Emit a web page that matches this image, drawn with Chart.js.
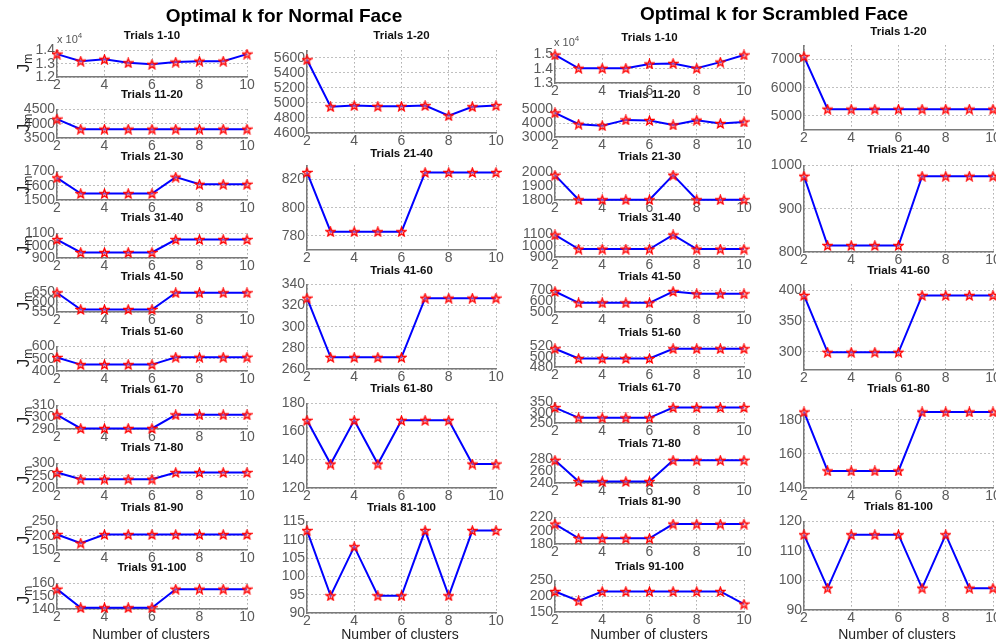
<!DOCTYPE html>
<html>
<head>
<meta charset="utf-8">
<script src="https://cdn.jsdelivr.net/npm/chart.js@4"></script>
<style>
  body { margin: 0; background: #fff; }
  #stage { position: relative; width: 996px; height: 644px; overflow: hidden; font-family: "Liberation Sans", Arial, sans-serif; }
  .plot { position: absolute; }
  .title { position: absolute; width: 200px; text-align: center; font-weight: bold; font-size: 11.5px; line-height: 14px; color: #111; }
  .main { position: absolute; width: 360px; text-align: center; font-weight: bold; font-size: 19px; line-height: 22px; color: #000; }
  .xlab { position: absolute; width: 200px; text-align: center; font-size: 14px; line-height: 16px; color: #222; }
  .jm { position: absolute; width: 30px; height: 22px; line-height: 22px; text-align: center; font-size: 17px; color: #222; transform: rotate(-90deg); }
  .jm sub { font-size: 12px; vertical-align: -3px; }
  .expo { position: absolute; font-size: 11px; color: #555; }
  .expo sup { font-size: 8px; }
</style>
</head>
<body>
<div id="stage"></div>
<script>
// number of clusters on every x axis
const clusters = [2, 3, 4, 5, 6, 7, 8, 9, 10];
const xTicks = [2, 4, 6, 8, 10];

// ---- Normal face ----
const normalTenTitles = ['Trials 1-10', 'Trials 11-20', 'Trials 21-30', 'Trials 31-40', 'Trials 41-50',
  'Trials 51-60', 'Trials 61-70', 'Trials 71-80', 'Trials 81-90', 'Trials 91-100'];
const normalTen = [
  [13720, 13190, 13330, 13070, 12950, 13120, 13190, 13190, 13720],
  [4160, 3810, 3810, 3810, 3810, 3810, 3810, 3810, 3810],
  [1655, 1545, 1545, 1545, 1545, 1660, 1610, 1610, 1610],
  [1050, 945, 945, 945, 945, 1050, 1050, 1050, 1050],
  [648, 563, 563, 563, 563, 648, 648, 648, 648],
  [510, 452, 452, 452, 452, 512, 512, 512, 512],
  [302, 290.5, 290.5, 290.5, 290.5, 302, 302, 302, 302],
  [263, 236, 236, 236, 236, 263, 263, 263, 263],
  [204, 174, 204, 204, 204, 204, 204, 204, 204],
  [155.5, 141, 141, 141, 141, 155.5, 155.5, 155.5, 155.5]
];
const normalTenTicks = [
  [12000, 13000, 14000], [3500, 4000, 4500], [1500, 1600, 1700], [900, 1000, 1100], [550, 600, 650],
  [400, 500, 600], [290, 300, 310], [200, 250, 300], [150, 200, 250], [140, 150, 160]
];

const normalTwentyTitles = ['Trials 1-20', 'Trials 21-40', 'Trials 41-60', 'Trials 61-80', 'Trials 81-100'];
const normalTwenty = [
  [5575, 4950, 4965, 4955, 4955, 4965, 4830, 4950, 4965],
  [825, 783, 783, 783, 783, 825, 825, 825, 825],
  [327, 271, 271, 271, 271, 327, 327, 327, 327],
  [168, 137, 168, 137, 168, 168, 168, 137, 137],
  [112.5, 94.7, 108.1, 94.7, 94.7, 112.5, 94.7, 112.5, 112.5]
];
const normalTwentyTicks = [
  [4600, 4800, 5000, 5200, 5400, 5600], [780, 800, 820], [260, 280, 300, 320, 340],
  [120, 140, 160, 180], [90, 95, 100, 105, 110, 115]
];
const normalTwentyRange = [[4600, 5700], [770, 830], [260, 340], [120, 180], [90, 115]];

// ---- Scrambled face ----
const scrambledTenTitles = normalTenTitles;
const scrambledTen = [
  [14960, 14030, 14030, 14030, 14330, 14370, 14030, 14460, 14960],
  [4750, 3930, 3820, 4240, 4200, 3870, 4220, 3980, 4090],
  [1980, 1802, 1802, 1802, 1802, 1980, 1802, 1802, 1802],
  [1095, 970, 970, 970, 970, 1095, 970, 970, 970],
  [690, 585, 585, 585, 585, 690, 668, 668, 668],
  [515.5, 496.5, 496.5, 496.5, 496.5, 515.5, 515.5, 515.5, 515.5],
  [325, 275, 275, 275, 275, 325, 325, 325, 325],
  [278.5, 242.5, 242.5, 242.5, 242.5, 278.5, 278.5, 278.5, 278.5],
  [210, 188.5, 188.5, 188.5, 188.5, 210, 210, 210, 210],
  [215, 185, 215, 215, 215, 215, 215, 215, 175]
];
const scrambledTenTicks = [
  [13000, 14000, 15000], [3000, 4000, 5000], [1800, 1900, 2000], [900, 1000, 1100], [500, 600, 700],
  [480, 500, 520], [250, 300, 350], [240, 260, 280], [180, 200, 220], [150, 200, 250]
];

const scrambledTwentyTitles = normalTwentyTitles;
const scrambledTwenty = [
  [7100, 5240, 5240, 5240, 5240, 5240, 5240, 5240, 5240],
  [975, 815, 815, 815, 815, 975, 975, 975, 975],
  [392, 299, 299, 299, 299, 392, 392, 392, 392],
  [184.5, 150, 150, 150, 150, 184.5, 184.5, 184.5, 184.5],
  [115.5, 97.4, 115.5, 115.5, 115.5, 97.4, 115.5, 97.4, 97.4]
];
const scrambledTwentyTicks = [
  [5000, 6000, 7000], [800, 900, 1000], [300, 350, 400], [140, 160, 180], [90, 100, 110, 120]
];
const scrambledTwentyRange = [[4500, 7500], [800, 1000], [270, 410], [140, 186], [90, 120]];

// plot boxes in page pixels: [top, bottom, title centre]
const columns = [
  { left: 57, right: 247, boxes: [[48,77,35],[107,138,94],[169,200,156],[231,258,217],[290,312,276],
      [344,371,331],[403,429,389],[461,488,447],[519,550,507],[581,609,567]] },
  { left: 307, right: 496, boxes: [[48,133,35],[163,250,153],[282,369,270],[401,488,388],[519,613,507]] },
  { left: 555, right: 744, boxes: [[52,83,37],[107,137,94],[170,200,156],[232,257,217],[288,312,276],
      [344,367,332],[400,423,387],[457,483,443],[515,544,501],[578,612,566]] },
  { left: 804, right: 993, boxes: [[43,130,31],[163,252,149],[282,370,270],[407,488,388],[519,610,506]] }
];

const stage = document.getElementById('stage');
const tickFont = { family: '"Liberation Sans", Arial, sans-serif', size: 14 };
const tickColor = '#5a5a5a';
const gridColor = '#808080';
const axisColor = '#7a7a7a';

// red pentagram marker
function makeStar() {
  const c = document.createElement('canvas');
  c.width = 11; c.height = 11;
  const g = c.getContext('2d');
  g.beginPath();
  for (let i = 0; i < 10; i++) {
    const r = i % 2 ? 2 : 4.7;
    const a = -Math.PI / 2 + i * Math.PI / 5;
    g.lineTo(5.5 + r * Math.cos(a), 5.9 + r * Math.sin(a));
  }
  g.closePath();
  g.fillStyle = 'rgba(255,150,150,0.5)';
  g.fill();
  g.strokeStyle = '#ff0000';
  g.lineWidth = 1.3;
  g.stroke();
  return c;
}
const star = makeStar();

function addText(cls, html, left, top) {
  const d = document.createElement('div');
  d.className = cls;
  d.innerHTML = html;
  d.style.left = left + 'px';
  d.style.top = top + 'px';
  stage.appendChild(d);
  return d;
}

function addPlot(col, i, values, ticks, range, title, scaled) {
  const [top, bottom, titleY] = col.boxes[i];
  const padL = 52, padR = 14, padT = 8, padB = 18;
  const div = document.createElement('div');
  div.className = 'plot';
  div.style.left = (col.left - padL) + 'px';
  div.style.top = (top - padT) + 'px';
  div.style.width = (col.right - col.left + padL + padR) + 'px';
  div.style.height = (bottom - top + padT + padB) + 'px';
  const canvas = document.createElement('canvas');
  div.appendChild(canvas);
  stage.appendChild(div);

  new Chart(canvas, {
    type: 'line',
    data: {
      datasets: [{
        data: clusters.map((k, j) => ({ x: k, y: values[j] })),
        borderColor: '#0000ff',
        borderWidth: 2,
        pointStyle: star,
        pointRadius: 5,
        tension: 0,
        clip: false
      }]
    },
    options: {
      responsive: true,
      maintainAspectRatio: false,
      animation: false,
      layout: { padding: { left: 0, right: padR, top: padT, bottom: 0 } },
      plugins: { legend: { display: false }, tooltip: { enabled: false } },
      scales: {
        x: {
          type: 'linear', min: 2, max: 10,
          afterBuildTicks: (a) => { a.ticks = xTicks.map(v => ({ value: v })); },
          afterFit: (a) => { a.height = padB; },
          ticks: { autoSkip: false, maxRotation: 0, padding: 0, color: tickColor, font: tickFont },
          grid: { color: gridColor, drawTicks: false, lineWidth: 1 },
          border: { color: axisColor, width: 1.5, dash: [1, 3] }
        },
        y: {
          min: range[0], max: range[1],
          afterBuildTicks: (a) => { a.ticks = ticks.map(v => ({ value: v })); },
          afterFit: (a) => { a.width = padL; },
          ticks: {
            autoSkip: false, padding: 2, color: tickColor, font: tickFont,
            callback: (v) => scaled ? (v / 1e4).toFixed(1) : String(v)
          },
          grid: { color: gridColor, drawTicks: false, lineWidth: 1 },
          border: { color: axisColor, width: 1.5, dash: [1, 3] }
        }
      }
    }
  });

  const mid = (col.left + col.right) / 2;
  addText('title', title, mid - 100, titleY - 7);
}

normalTen.forEach((v, i) => {
  const t = normalTenTicks[i];
  addPlot(columns[0], i, v, t, [t[0], t[t.length - 1]], normalTenTitles[i], i === 0);
  const [top, bottom] = columns[0].boxes[i];
  addText('jm', 'J<sub>m</sub>', 9, (top + bottom) / 2 - 11);
});
normalTwenty.forEach((v, i) => {
  addPlot(columns[1], i, v, normalTwentyTicks[i], normalTwentyRange[i], normalTwentyTitles[i], false);
});
scrambledTen.forEach((v, i) => {
  const t = scrambledTenTicks[i];
  addPlot(columns[2], i, v, t, [t[0], t[t.length - 1]], scrambledTenTitles[i], i === 0);
});
scrambledTwenty.forEach((v, i) => {
  addPlot(columns[3], i, v, scrambledTwentyTicks[i], scrambledTwentyRange[i], scrambledTwentyTitles[i], false);
});

addText('expo', 'x 10<sup>4</sup>', 57, 31);
addText('expo', 'x 10<sup>4</sup>', 554, 34);

addText('main', 'Optimal k for Normal Face', 284 - 180, 5);
addText('main', 'Optimal k for Scrambled Face', 774 - 180, 3);

[151, 400, 649, 897].forEach((x) => {
  addText('xlab', 'Number of clusters', x - 100, 626);
});
</script>
</body>
</html>
